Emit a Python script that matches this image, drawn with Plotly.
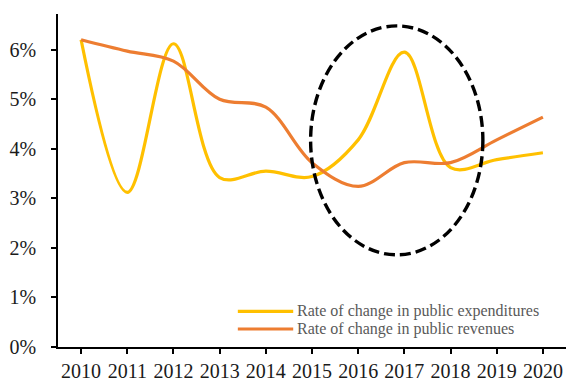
import plotly.graph_objects as go

years = [2010, 2011, 2012, 2013, 2014, 2015, 2016, 2017, 2018, 2019, 2020]
expenditures = [6.2, 3.12, 6.12, 3.42, 3.55, 3.44, 4.18, 5.95, 3.62, 3.78, 3.92]
revenues = [6.2, 5.97, 5.77, 5.0, 4.84, 3.72, 3.24, 3.72, 3.72, 4.18, 4.64]
y_ticks = [0, 1, 2, 3, 4, 5, 6]
y_tick_text = ["0%", "1%", "2%", "3%", "4%", "5%", "6%"]

series_names = ["Rate of change in public expenditures", "Rate of change in public revenues"]
series_colors = ["#FFC000", "#ED7D31"]

serif = "Liberation Serif, Times New Roman, serif"

fig = go.Figure()
for name, vals, color in zip(series_names, [expenditures, revenues], series_colors):
    fig.add_trace(go.Scatter(
        x=years, y=vals, mode="lines", name=name, showlegend=False,
        line=dict(color=color, width=3.2, shape="spline", smoothing=1),
    ))

# dashed ellipse highlighting 2015-2018
fig.add_shape(type="circle", xref="x", yref="y",
              x0=2014.97, x1=2018.7, y0=1.86, y1=6.48,
              line=dict(color="black", width=3.4, dash="11px,5px"))

# legend drawn in the lower right of the plot area
legend_rows_y = [0.107, 0.054]
for name, color, ly in zip(series_names, series_colors, legend_rows_y):
    fig.add_shape(type="line", xref="paper", yref="paper",
                  x0=0.354, x1=0.463, y0=ly, y1=ly,
                  line=dict(color=color, width=3.2))
    fig.add_annotation(xref="paper", yref="paper", x=0.467, y=ly,
                       xanchor="left", yanchor="middle", showarrow=False,
                       text=name, font=dict(family=serif, size=16, color="#595959"))

fig.update_layout(
    width=566, height=382,
    margin=dict(l=58, r=0, t=14, b=32),
    paper_bgcolor="white", plot_bgcolor="white",
    font=dict(family=serif, size=20, color="#1a1a1a"),
    showlegend=False,
    xaxis=dict(
        range=[2009.5, 2020.5], tickmode="array", tickvals=years,
        ticktext=[str(y) for y in years],
        showgrid=False, zeroline=False,
        showline=True, linecolor="black", linewidth=1.5,
        ticks="outside", ticklen=5, tickwidth=1.5, tickcolor="black",
        tickfont=dict(family=serif, size=20, color="#1a1a1a"),
    ),
    yaxis=dict(
        range=[0, 6.72], tickmode="array", tickvals=y_ticks, ticktext=y_tick_text,
        showgrid=False, zeroline=False,
        showline=True, linecolor="black", linewidth=1.5,
        ticks="outside", ticklen=5, tickwidth=1.5, tickcolor="black",
        ticklabelstandoff=11,
        tickfont=dict(family=serif, size=20, color="#1a1a1a"),
    ),
)

fig.write_html("out.html")
